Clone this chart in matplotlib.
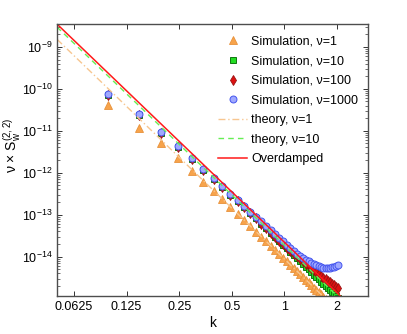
import numpy as np
import matplotlib
matplotlib.use("Agg")
import matplotlib.pyplot as plt
from matplotlib.ticker import FixedLocator, FixedFormatter, NullLocator, LogLocator

plt.rcParams['font.family'] = ['Liberation Sans', 'DejaVu Sans']
plt.rcParams['mathtext.default'] = 'regular'
plt.rcParams['font.size'] = 9

# wavenumbers of the simulated modes
k = [0.098, 0.147, 0.196, 0.246, 0.295, 0.344, 0.393, 0.442, 0.491, 0.540,
     0.589, 0.638, 0.687, 0.737, 0.786, 0.835, 0.884, 0.933, 0.982, 1.031,
     1.080, 1.129, 1.178, 1.228, 1.277, 1.326, 1.375, 1.424, 1.473, 1.522,
     1.571, 1.620, 1.669, 1.719, 1.768, 1.817, 1.866, 1.915, 1.964, 2.013]

# simulation, nu=1
sim_nu1 = [4.03e-11, 1.14e-11, 5.01e-12, 2.20e-12, 1.12e-12, 6.14e-13, 3.65e-13, 2.35e-13, 1.54e-13, 1.04e-13,
           7.36e-14, 5.36e-14, 3.96e-14, 2.99e-14, 2.31e-14, 1.81e-14, 1.45e-14, 1.16e-14, 9.46e-15, 7.76e-15,
           6.41e-15, 5.36e-15, 4.52e-15, 3.83e-15, 3.27e-15, 2.82e-15, 2.43e-15, 2.11e-15, 1.84e-15, 1.62e-15,
           1.42e-15, 1.26e-15, 1.12e-15, 9.89e-16, 8.87e-16, 7.94e-16, 7.11e-16, 6.41e-16, 5.81e-16, 5.24e-16]

# simulation, nu=10
sim_nu10 = [7.28e-11, 2.32e-11, 8.96e-12, 4.17e-12, 2.18e-12, 1.19e-12, 7.08e-13, 4.56e-13, 3.03e-13, 2.12e-13,
            1.52e-13, 1.10e-13, 8.20e-14, 6.17e-14, 4.77e-14, 3.73e-14, 2.96e-14, 2.38e-14, 1.94e-14, 1.59e-14,
            1.32e-14, 1.10e-14, 9.27e-15, 7.85e-15, 6.70e-15, 5.75e-15, 4.95e-15, 4.30e-15, 3.75e-15, 3.29e-15,
            2.88e-15, 2.55e-15, 2.28e-15, 2.00e-15, 1.80e-15, 1.61e-15, 1.45e-15, 1.29e-15, 1.17e-15, 1.06e-15]

# simulation, nu=100
sim_nu100 = [7.28e-11, 2.32e-11, 8.96e-12, 4.17e-12, 2.18e-12, 1.19e-12, 7.08e-13, 4.56e-13, 3.03e-13, 2.12e-13,
             1.52e-13, 1.10e-13, 8.20e-14, 6.17e-14, 4.77e-14, 3.73e-14, 2.96e-14, 2.38e-14, 1.97e-14, 1.65e-14,
             1.39e-14, 1.18e-14, 1.02e-14, 8.77e-15, 7.69e-15, 6.78e-15, 5.97e-15, 5.32e-15, 4.74e-15, 4.28e-15,
             3.83e-15, 3.49e-15, 3.18e-15, 2.88e-15, 2.65e-15, 2.44e-15, 2.25e-15, 2.07e-15, 1.93e-15, 1.80e-15]

# simulation, nu=1000
sim_nu1000 = [7.69e-11, 2.45e-11, 9.46e-12, 4.40e-12, 2.30e-12, 1.26e-12, 7.48e-13, 4.82e-13, 3.20e-13, 2.24e-13,
              1.61e-13, 1.19e-13, 9.06e-14, 6.89e-14, 5.38e-14, 4.32e-14, 3.47e-14, 2.79e-14, 2.30e-14, 1.90e-14,
              1.61e-14, 1.37e-14, 1.19e-14, 1.04e-14, 9.31e-15, 8.34e-15, 7.69e-15, 7.08e-15, 6.52e-15, 6.17e-15,
              5.85e-15, 5.53e-15, 5.38e-15, 5.30e-15, 5.30e-15, 5.38e-15, 5.53e-15, 5.69e-15, 6.01e-15, 6.34e-15]

# theory curves
k_theory = [0.05, 0.1, 0.25, 0.5, 1.0, 2.0, 3.0]
theory_nu1 = [1.52e-9, 9.36e-11, 2.33e-12, 1.43e-13, 8.77e-15, 5.38e-16, 1.07e-16]
theory_nu10 = [2.97e-9, 1.86e-10, 4.75e-12, 2.97e-13, 1.86e-14, 1.16e-15, 2.30e-16]
overdamped = [3.50e-9, 2.19e-10, 5.60e-12, 3.50e-13, 2.19e-14, 1.37e-15, 2.70e-16]

xticks = [0.0625, 0.125, 0.25, 0.5, 1, 2]
xticklabels = ['0.0625', '0.125', '0.25', '0.5', '1', '2']
yticks = [1e-14, 1e-13, 1e-12, 1e-11, 1e-10, 1e-9]
yticklabels = [r'$10^{-14}$', r'$10^{-13}$', r'$10^{-12}$', r'$10^{-11}$', r'$10^{-10}$', r'$10^{-9}$']

fig = plt.figure(figsize=(4.07, 3.34), dpi=100)
ax = fig.add_axes([0.140, 0.114, 0.764, 0.814])

ax.plot(k, sim_nu1, ls='none', marker='^', ms=5.5, mfc='#F7A34B', mec='#E8913A', mew=0.6,
        label='Simulation, ν=1')
ax.plot(k, sim_nu10, ls='none', marker='s', ms=3.8, mfc='#22DD22', mec='#117711', mew=0.7,
        label='Simulation, ν=10')
ax.plot(k, sim_nu100, ls='none', marker='d', ms=5, mfc='#DD1111', mec='#991111', mew=0.6,
        label='Simulation, ν=100')
ax.plot(k, sim_nu1000, ls='none', marker='o', ms=5, mfc='#9FA8FF', mec='#4455EE', mew=0.7,
        label='Simulation, ν=1000')

ax.plot(k_theory, theory_nu1, ls=(0, (5, 2, 1, 2)), color='#F7C690', lw=1.0, label='theory, ν=1')
ax.plot(k_theory, theory_nu10, ls=(0, (4, 3)), color='#66EE55', lw=1.0, label='theory, ν=10')
ax.plot(k_theory, overdamped, ls='-', color='#FF1A1A', lw=1.1, label='Overdamped')

ax.set_xscale('log', base=2)
ax.set_yscale('log')
ax.set_xlim(0.05, 3.0)
ax.set_ylim(1.16e-15, 3.5e-9)

ax.xaxis.set_major_locator(FixedLocator(xticks))
ax.xaxis.set_major_formatter(FixedFormatter(xticklabels))
ax.xaxis.set_minor_locator(NullLocator())
ax.yaxis.set_major_locator(FixedLocator(yticks))
ax.yaxis.set_major_formatter(FixedFormatter(yticklabels))
ax.yaxis.set_minor_locator(LogLocator(base=10, subs=np.arange(2, 10), numticks=20))

ax.tick_params(which='both', direction='in', top=True, right=True, color='0.2', labelsize=9)
ax.tick_params(which='major', length=3.5, width=0.7)
ax.tick_params(which='minor', length=2, width=0.5)
for s in ax.spines.values():
    s.set_color('0.3')
    s.set_linewidth(1.0)

ax.set_xlabel('k', fontsize=10, labelpad=2)
ax.set_ylabel(r'ν × S$_w^{(2,2)}$', fontsize=10)
ax.yaxis.set_label_coords(-0.11, 0.555)

ax.legend(loc='upper left', bbox_to_anchor=(0.536, 0.893), bbox_transform=fig.transFigure,
          frameon=False, borderpad=0, borderaxespad=0, handlelength=2.3, handletextpad=0.35,
          labelspacing=0.61, fontsize=9, numpoints=1)

fig.savefig('out.png', dpi=100)
